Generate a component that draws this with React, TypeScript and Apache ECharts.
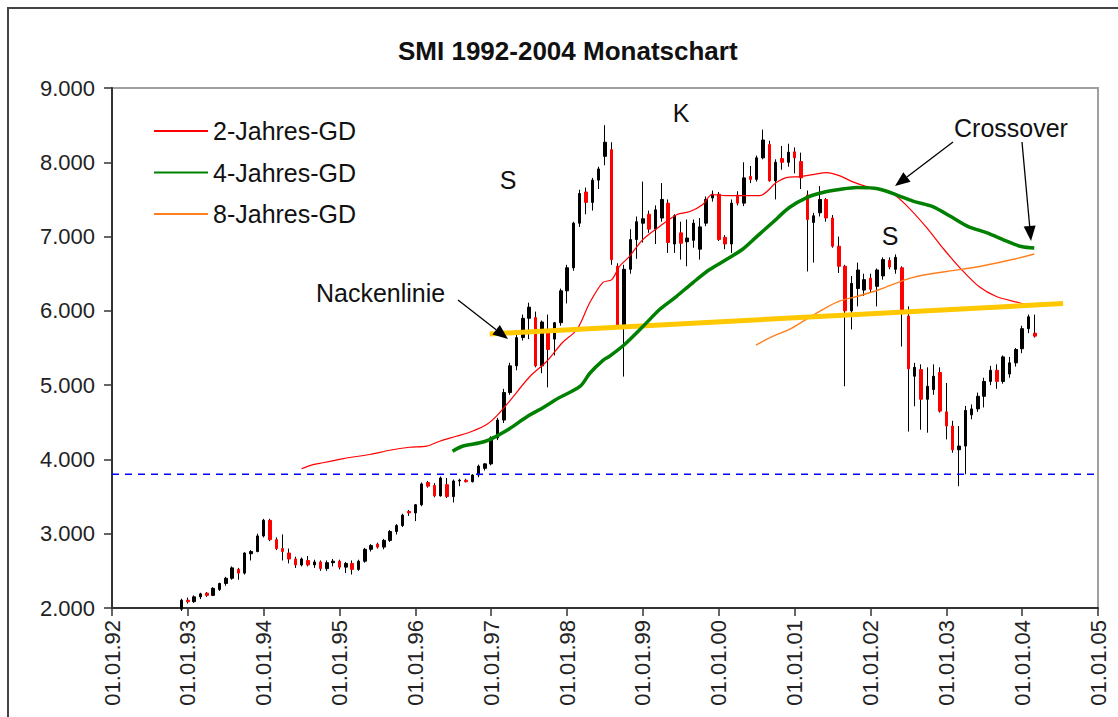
import React, { useEffect, useRef } from "react";
import * as echarts from "echarts";

const FONT = "'Liberation Sans', Arial, Helvetica, sans-serif";

const xTickLabels = [
  "01.01.92", "01.01.93", "01.01.94", "01.01.95", "01.01.96", "01.01.97", "01.01.98",
  "01.01.99", "01.01.00", "01.01.01", "01.01.02", "01.01.03", "01.01.04", "01.01.05",
];
const yTickLabels = ["2.000", "3.000", "4.000", "5.000", "6.000", "7.000", "8.000", "9.000"];

// Monthly SMI bars: [open, high, low, close]
const smi1992 = [[1985, 2125, 1960, 2105]]; // Dec
const smi1993 = [
  [2105, 2140, 2060, 2085], [2085, 2170, 2070, 2150], [2150, 2205, 2120, 2190], [2200, 2215, 2150, 2170],
  [2170, 2280, 2160, 2265], [2250, 2340, 2230, 2330], [2330, 2420, 2300, 2400], [2400, 2560, 2380, 2540],
  [2520, 2540, 2380, 2470], [2470, 2750, 2450, 2740], [2730, 2780, 2640, 2760], [2760, 3000, 2750, 2970],
];
const smi1994 = [
  [2970, 3200, 2950, 3180], [3180, 3200, 2900, 2920], [2920, 2950, 2780, 2800], [2800, 2990, 2640, 2760],
  [2740, 2800, 2600, 2660], [2660, 2690, 2540, 2580], [2580, 2680, 2560, 2660], [2640, 2700, 2560, 2580],
  [2580, 2650, 2540, 2620], [2620, 2640, 2500, 2530], [2530, 2640, 2500, 2610], [2610, 2660, 2560, 2630],
];
const smi1995 = [
  [2630, 2650, 2520, 2550], [2550, 2620, 2470, 2600], [2600, 2640, 2450, 2520], [2520, 2650, 2500, 2630],
  [2630, 2810, 2610, 2790], [2790, 2860, 2760, 2840], [2860, 2880, 2800, 2820], [2820, 2930, 2790, 2910],
  [2910, 3050, 2890, 3030], [3030, 3130, 2990, 3110], [3110, 3270, 3090, 3250], [3300, 3320, 3240, 3280],
];
const smi1996 = [
  [3280, 3400, 3170, 3390], [3390, 3690, 3370, 3670], [3690, 3710, 3620, 3640], [3650, 3680, 3490, 3510],
  [3510, 3770, 3500, 3750], [3660, 3750, 3480, 3500], [3500, 3730, 3420, 3710], [3710, 3740, 3640, 3720],
  [3720, 3740, 3690, 3700], [3700, 3800, 3690, 3790], [3790, 3930, 3760, 3910], [3880, 3950, 3850, 3940],
];
const smi1997 = [
  [3940, 4310, 3920, 4290], [4290, 4560, 4260, 4530], [4530, 4950, 4490, 4900], [4900, 5300, 4870, 5260],
  [5260, 5680, 5200, 5640], [5640, 5950, 5600, 5900], [5900, 6110, 5620, 6050], [5910, 5990, 5240, 5260],
  [5260, 5870, 5160, 5850], [5750, 5950, 4970, 5480], [5620, 5850, 5400, 5840], [5840, 6300, 5800, 6270],
];
const smi1998 = [
  [6270, 6620, 6100, 6580], [6580, 7200, 6540, 7180], [7180, 7630, 7130, 7580], [7600, 7660, 7300, 7460],
  [7460, 7790, 7350, 7760], [7760, 7940, 7640, 7910], [8080, 8500, 7960, 8270], [8170, 8270, 6620, 6690],
  [6600, 6640, 5760, 5790], [5790, 6620, 5115, 6560], [6560, 7100, 6500, 6960], [6960, 7270, 6700, 7200],
];
const smi1999 = [
  [7180, 7740, 6920, 7240], [7300, 7350, 7050, 7100], [7100, 7420, 6900, 7360], [7250, 7720, 7200, 7500],
  [7450, 7500, 6780, 6920], [6900, 7300, 6780, 7280], [7050, 7200, 6690, 6910], [6930, 7230, 6600, 6980],
  [6950, 7230, 6850, 7180], [6830, 7250, 6690, 7130], [7180, 7540, 7140, 7500], [7520, 7620, 7470, 7570],
];
const smi2000 = [
  [7570, 7600, 6940, 6960], [6990, 7020, 6830, 6900], [6900, 7500, 6780, 7450], [7560, 7610, 7420, 7450],
  [7450, 8000, 7410, 7790], [7810, 7950, 7720, 7770], [7770, 8090, 7740, 8060], [8060, 8440, 8040, 8300],
  [8240, 8290, 7740, 7750], [7750, 8040, 7500, 8000], [8050, 8220, 7900, 8000], [8000, 8250, 7940, 8135],
];
const smi2001 = [
  [8140, 8200, 7850, 8060], [8010, 8130, 7640, 7790], [7560, 7620, 6530, 7230], [7190, 7320, 6650, 7280],
  [7320, 7680, 7270, 7500], [7500, 7520, 7200, 7250], [7250, 7290, 6850, 6870], [6870, 7000, 6510, 6600],
  [6600, 6620, 4985, 6000], [6000, 6470, 5750, 6370], [6300, 6650, 6060, 6550], [6280, 6500, 6200, 6420],
];
const smi2002 = [
  [6440, 6500, 6250, 6290], [6330, 6570, 6060, 6550], [6470, 6720, 6420, 6690], [6680, 6720, 6560, 6590],
  [6560, 6760, 6500, 6720], [6580, 6600, 5520, 5990], [5930, 6060, 4375, 5220], [5120, 5300, 4716, 5240],
  [5210, 5280, 4400, 4810], [4810, 5240, 4360, 4985], [4940, 5280, 4870, 5120], [5170, 5240, 4630, 4650],
];
const smi2003 = [
  [4640, 5030, 4270, 4450], [4450, 4520, 4090, 4130], [4130, 4450, 3640, 4180], [4180, 4720, 3800, 4660],
  [4600, 4740, 4540, 4680], [4680, 4900, 4640, 4850], [4850, 5100, 4700, 5050], [5050, 5260, 5000, 5200],
  [5200, 5280, 4950, 5050], [5050, 5400, 5020, 5380], [5150, 5380, 5100, 5300], [5300, 5500, 5250, 5480],
];
const smi2004 = [[5490, 5800, 5430, 5760], [5760, 5950, 5700, 5920], [5700, 5950, 5640, 5660]];

const yearBlocks = [
  { year: 1992, firstMonth: 11, bars: smi1992 },
  { year: 1993, firstMonth: 0, bars: smi1993 },
  { year: 1994, firstMonth: 0, bars: smi1994 },
  { year: 1995, firstMonth: 0, bars: smi1995 },
  { year: 1996, firstMonth: 0, bars: smi1996 },
  { year: 1997, firstMonth: 0, bars: smi1997 },
  { year: 1998, firstMonth: 0, bars: smi1998 },
  { year: 1999, firstMonth: 0, bars: smi1999 },
  { year: 2000, firstMonth: 0, bars: smi2000 },
  { year: 2001, firstMonth: 0, bars: smi2001 },
  { year: 2002, firstMonth: 0, bars: smi2002 },
  { year: 2003, firstMonth: 0, bars: smi2003 },
  { year: 2004, firstMonth: 0, bars: smi2004 },
];

// Moving averages: [decimal year, value]
const gd2Jahre = [
  [1994.5, 3874], [1994.62, 3920], [1994.78, 3955], [1995.0, 4000], [1995.13, 4026], [1995.4, 4066],
  [1995.66, 4124], [1995.92, 4164], [1996.15, 4178], [1996.32, 4245], [1996.54, 4312], [1996.75, 4380],
  [1996.94, 4470], [1997.07, 4582], [1997.24, 4783], [1997.51, 5116], [1997.73, 5318], [1997.94, 5574],
  [1998.13, 5749], [1998.3, 6112], [1998.47, 6381], [1998.59, 6421], [1998.69, 6597], [1998.82, 6731],
  [1999.0, 6960], [1999.22, 7135], [1999.45, 7297], [1999.62, 7337], [1999.79, 7431], [1999.91, 7566],
  [2000.1, 7552], [2000.54, 7552], [2000.76, 7727], [2000.89, 7794], [2001.07, 7807], [2001.24, 7835],
  [2001.42, 7862], [2001.59, 7821], [2001.76, 7740], [2001.95, 7673], [2002.1, 7640], [2002.25, 7606],
  [2002.44, 7454], [2002.73, 7135], [2002.97, 6826], [2003.2, 6556], [2003.43, 6327], [2003.66, 6193],
  [2003.95, 6112], [2004.14, 6060],
];
const gd4Jahre = [
  [1996.49, 4110], [1996.62, 4178], [1996.85, 4224], [1996.98, 4268], [1997.11, 4335], [1997.24, 4412],
  [1997.49, 4587], [1997.64, 4672], [1997.9, 4833], [1998.17, 4982], [1998.3, 5160], [1998.47, 5330],
  [1998.56, 5389], [1998.75, 5540], [1999.0, 5789], [1999.22, 6018], [1999.44, 6193], [1999.66, 6381],
  [1999.88, 6556], [2000.1, 6691], [2000.31, 6826], [2000.5, 7000], [2000.71, 7189], [2000.93, 7391],
  [2001.16, 7525], [2001.37, 7593], [2001.59, 7633], [2001.82, 7660], [2002.11, 7640], [2002.4, 7539],
  [2002.58, 7471], [2002.82, 7404], [2003.06, 7270], [2003.29, 7135], [2003.53, 7054], [2003.81, 6933],
  [2003.99, 6866], [2004.16, 6845],
];
const gd8Jahre = [
  [2000.49, 5540], [2000.71, 5655], [2000.93, 5750], [2001.16, 5890], [2001.37, 6018], [2001.59, 6130],
  [2001.82, 6193], [2002.12, 6287], [2002.55, 6448], [2003.0, 6530], [2003.44, 6597], [2003.87, 6691],
  [2004.16, 6765],
];
const nackenlinie = [[1996.98, 5690], [2004.54, 6098]];
const unterstuetzung = [[1992, 3800], [2005, 3800]];

function arrow(x0: number, y0: number, x1: number, y1: number) {
  const head = 15, w = 12;
  const dx = x1 - x0, dy = y1 - y0;
  const len = Math.hypot(dx, dy);
  const ux = dx / len, uy = dy / len;
  const bx = x1 - ux * head, by = y1 - uy * head;
  const px = (-uy * w) / 2, py = (ux * w) / 2;
  return [
    { type: "line", shape: { x1: x0, y1: y0, x2: bx, y2: by }, style: { stroke: "#000", lineWidth: 1.3 }, z: 50 },
    { type: "polygon", shape: { points: [[x1, y1], [bx + px, by + py], [bx - px, by - py]] }, style: { fill: "#000" }, z: 50 },
  ];
}

export default function App() {
  const ref = useRef<HTMLDivElement>(null);
  useEffect(() => {
    if (!ref.current) return;
    const chart = echarts.init(ref.current, null, { renderer: "svg" });
    const wicks: number[][] = [];
    const bodies: number[][] = [];
    yearBlocks.forEach((b) => {
      b.bars.forEach((r, i) => {
        const x = b.year + (b.firstMonth + i) / 12;
        const [o, h, l, c] = r;
        wicks.push([x, o, c, l, h]);
        bodies.push([x, o, c, Math.min(o, c), Math.max(o, c)]);
      });
    });
    const txt = (text: string, x: number, y: number, align = "left") => ({
      type: "text", x, y, z: 50,
      style: { text, fill: "#111", font: `25px ${FONT}`, textAlign: align, textVerticalAlign: "middle" },
    });
    chart.setOption({
      animation: false,
      backgroundColor: "#fff",
      title: {
        text: "SMI 1992-2004 Monatschart", left: 398, top: 38, padding: 0,
        textStyle: { fontSize: 26, fontWeight: "bold", color: "#111", fontFamily: FONT },
      },
      legend: {
        data: ["2-Jahres-GD", "4-Jahres-GD", "8-Jahres-GD"],
        orient: "vertical", left: 153, top: 118.5, padding: 0,
        itemWidth: 54, itemHeight: 14, itemGap: 16.5,
        itemStyle: { opacity: 0 },
        textStyle: { fontSize: 25, color: "#111", fontFamily: FONT, lineHeight: 25 },
      },
      grid: { left: 112, top: 88, right: 20, bottom: 109, show: true, borderColor: "#a0a0a0", borderWidth: 2 },
      xAxis: {
        type: "value", min: 1992, max: 2005, interval: 1,
        axisLine: { show: true, onZero: false, lineStyle: { color: "#333", width: 2 } },
        axisTick: { show: true, length: 8, lineStyle: { color: "#333", width: 1.5 } },
        axisLabel: {
          rotate: 90, margin: 12, fontSize: 22, color: "#222", fontFamily: FONT,
          formatter: (v: number) => xTickLabels[Math.round(v - 1992)] ?? "",
        },
        splitLine: { show: false },
      },
      yAxis: {
        type: "value", min: 2000, max: 9000, interval: 1000,
        axisLine: { show: true, lineStyle: { color: "#333", width: 2 } },
        axisTick: { show: true, length: 8, lineStyle: { color: "#333", width: 1.5 } },
        axisLabel: {
          margin: 17, fontSize: 22, color: "#222", fontFamily: FONT,
          formatter: (v: number) => yTickLabels[Math.round((v - 2000) / 1000)] ?? "",
        },
        splitLine: { show: false },
      },
      series: [
        {
          name: "SMI-Spanne", type: "candlestick", data: wicks, barWidth: 0.4, clip: true,
          itemStyle: { color: "#000", borderColor: "#000", color0: "#000", borderColor0: "#000", borderWidth: 1 },
        },
        {
          name: "SMI", type: "candlestick", data: bodies, barWidth: 3, clip: true,
          itemStyle: { color: "#000", borderColor: "#000", color0: "#ff0000", borderColor0: "#ff0000", borderWidth: 1 },
        },
        {
          name: "Unterstützung", type: "line", data: unterstuetzung, symbol: "none",
          lineStyle: { color: "#0000ff", width: 1.5, type: [7, 6] },
        },
        { name: "2-Jahres-GD", type: "line", data: gd2Jahre, symbol: "none", smooth: 0.3, color: "#ff0000", lineStyle: { color: "#ff0000", width: 1.2 } },
        { name: "8-Jahres-GD", type: "line", data: gd8Jahre, symbol: "none", smooth: 0.3, color: "#ff7f1e", lineStyle: { color: "#ff7f1e", width: 1.4 } },
        { name: "Nackenlinie", type: "line", data: nackenlinie, symbol: "none", lineStyle: { color: "#ffc800", width: 5 } },
        { name: "4-Jahres-GD", type: "line", data: gd4Jahre, symbol: "none", smooth: 0.3, color: "#008000", lineStyle: { color: "#008000", width: 3.5 } },
      ],
      graphic: [
        { type: "rect", shape: { x: 8, y: 8, width: 1200, height: 800 }, style: { fill: "none", stroke: "#444", lineWidth: 2 }, z: 60 },
        txt("Nackenlinie", 316, 293),
        txt("S", 508, 180, "center"),
        txt("K", 681, 113, "center"),
        txt("S", 890, 236, "center"),
        txt("Crossover", 954, 128),
        ...arrow(458, 300, 508, 339),
        ...arrow(953, 142, 895, 186),
        ...arrow(1022, 142, 1031, 241),
      ],
    });
    return () => chart.dispose();
  }, []);
  return <div ref={ref} style={{ position: "fixed", left: 0, top: 0, width: 1118, height: 717 }} />;
}
